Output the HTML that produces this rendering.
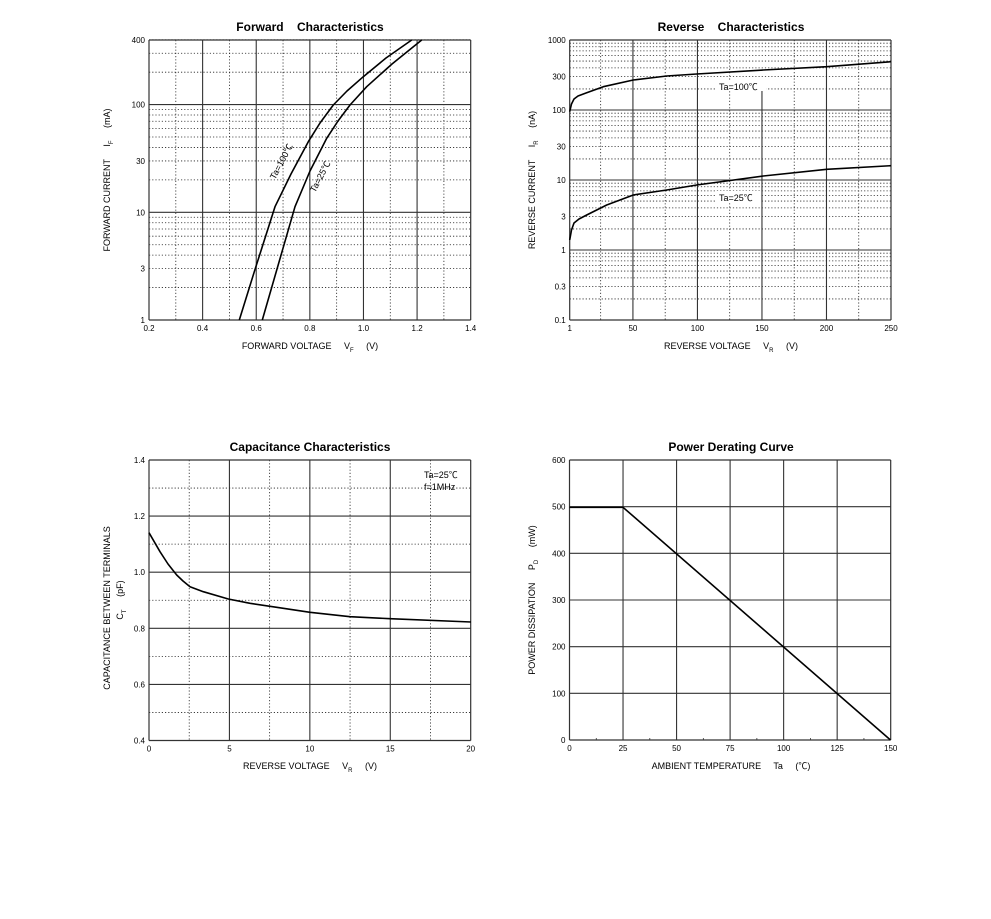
<!DOCTYPE html>
<html><head><meta charset="utf-8"><style>
html,body{margin:0;padding:0;background:#fff;}
svg{display:block;font-family:"Liberation Sans","Noto Sans CJK SC",sans-serif;}
text{white-space:pre;}
</style></head><body>
<svg id="s" width="991" height="919" viewBox="0 0 991 919" xmlns="http://www.w3.org/2000/svg" xml:space="preserve">
<g font-size="12" font-weight="bold" text-anchor="middle">
<text x="310" y="31">Forward    Characteristics</text>
<text x="731" y="31">Reverse    Characteristics</text>
<text x="310" y="451">Capacitance Characteristics</text>
<text x="731" y="451">Power Derating Curve</text>
</g>
<g id="grid"></g>
<g font-size="8" id="labels"></g>
<g font-size="9" text-anchor="middle">
<text x="310" y="349">FORWARD VOLTAGE     V<tspan font-size="6" dy="3">F</tspan><tspan dy="-3">     (V)</tspan></text>
<text x="731" y="349">REVERSE VOLTAGE     V<tspan font-size="6" dy="3">R</tspan><tspan dy="-3">     (V)</tspan></text>
<text x="310" y="769">REVERSE VOLTAGE     V<tspan font-size="6" dy="3">R</tspan><tspan dy="-3">     (V)</tspan></text>
<text x="731" y="769">AMBIENT TEMPERATURE     Ta     (℃)</text>
<text transform="translate(110,180) rotate(-90)">FORWARD CURRENT     I<tspan font-size="6" dy="3">F</tspan><tspan dy="-3">     (mA)</tspan></text>
<text transform="translate(535,180) rotate(-90)">REVERSE CURRENT     I<tspan font-size="6" dy="3">R</tspan><tspan dy="-3">     (nA)</tspan></text>
<text transform="translate(110,608) rotate(-90)">CAPACITANCE BETWEEN TERMINALS</text>
<text transform="translate(123,600) rotate(-90)">C<tspan font-size="6" dy="3">T</tspan><tspan dy="-3">     (pF)</tspan></text>
<text transform="translate(535,600) rotate(-90)">POWER DISSIPATION     P<tspan font-size="6" dy="3">D</tspan><tspan dy="-3">     (mW)</tspan></text>
</g>
<g fill="none" stroke="#000" stroke-width="1.6" stroke-linejoin="round">
<path d="M239.3,320 L254.3,271.7 L275,206.7 L291,174 L308.3,141.7 L320,123 L333.3,105 L347,91 L363.3,76.7 L386,58 L411.7,40"/>
<path d="M262.3,320 L295,206.7 L310,171 L326.7,138.3 L338,121 L350,105 L366.7,86.7 L392,64 L421.7,40"/>
<path d="M569.7,111.7 L571.5,104 L574,99 L578,96 L586,93 L603.3,86.7 L633.3,80 L666.7,76 L696.7,74 L763.3,70 L826.7,66.7 L891,61.7"/>
<path d="M569.7,240 L571.5,230 L574,223 L579,219 L586.7,215 L606.7,205 L633.3,195 L666.7,190 L696.7,185 L763.3,176 L826.7,169.3 L891,165.7"/>
<path d="M149,532.7 L160,551.7 L168,564 L176.7,575 L183,581 L190,586.7 L203.3,591.7 L228.3,599 L250,603.3 L276.7,607.3 L310,612.3 L350,616.7 L390,618.7 L471,622"/>
<path d="M569.5,507.3 L623,507.3 L890.5,740"/>
</g>
<rect x="716" y="80" width="50" height="11" fill="#fff"/>
<rect x="716" y="191" width="44" height="11" fill="#fff"/>
<g font-size="9">
<text x="719" y="90">Ta=100℃</text>
<text x="719" y="201">Ta=25℃</text>
<text x="424" y="478">Ta=25℃</text>
<text x="424" y="490">f=1MHz</text>
<text transform="translate(275,180) rotate(-62)">Ta=100℃</text>
<text transform="translate(315,193) rotate(-62)">Ta=25℃</text>
</g>
</svg>
<script>
var NS="http://www.w3.org/2000/svg",g=document.getElementById('grid'),L=document.getElementById('labels');
function ln(x1,y1,x2,y2,dot,w){var e=document.createElementNS(NS,'line');e.setAttribute('x1',x1);e.setAttribute('y1',y1);e.setAttribute('x2',x2);e.setAttribute('y2',y2);e.setAttribute('stroke',dot?'#222':'#333');e.setAttribute('stroke-width',w||(dot?0.8:1.1));if(dot)e.setAttribute('stroke-dasharray','1.2,2');g.appendChild(e);}
function tx(x,y,s,a){var e=document.createElementNS(NS,'text');e.setAttribute('x',x);e.setAttribute('y',y);e.setAttribute('text-anchor',a||'middle');e.textContent=s;L.appendChild(e);}
function box(x0,y0,x1,y1){ln(x0,y0,x1,y0,0,1.2);ln(x0,y1,x1,y1,0,1.2);ln(x0,y0,x0,y1,0,1.2);ln(x1,y0,x1,y1,0,1.2);}
(function(){var x0=149,x1=470.7,y0=40,y1=320,d=107.7;
for(var i=0;i<=12;i++){var v=0.2+i*0.1,x=x0+(x1-x0)*i/12;if(i>0&&i<12)ln(x,y0,x,y1,i%2==1);if(i%2==0)tx(x,y1+11,v.toFixed(1));}
for(var dec=0;dec<3;dec++)for(var m=1;m<10;m++){var v=m*Math.pow(10,dec);if(v>400)break;var y=y1-Math.log10(v)*d;if(v>1)ln(x0,y,x1,y,!(m==1));}
[[1,'1'],[3,'3'],[10,'10'],[30,'30'],[100,'100'],[400,'400']].forEach(function(p){tx(x0-4,y1-Math.log10(p[0])*d+3,p[1],'end');});
box(x0,y0,x1,y1);})();
(function(){var x0=569.7,x1=891,y0=40,y1=320,d=70;
function X(v){return x0+(v-1)/249*(x1-x0);}
for(var v=25;v<250;v+=25)ln(X(v),v==150?91:y0,X(v),y1,v%50!=0);
[1,50,100,150,200,250].forEach(function(v){tx(X(v),y1+11,''+v);});
for(var dec=-1;dec<3;dec++)for(var m=1;m<10;m++){var v=m*Math.pow(10,dec);var y=y1-(Math.log10(v)+1)*d;if(v>0.1)ln(x0,y,x1,y,m!=1);}
[[0.1,'0.1'],[0.3,'0.3'],[1,'1'],[3,'3'],[10,'10'],[30,'30'],[100,'100'],[300,'300'],[1000,'1000']].forEach(function(p){tx(x0-4,y1-(Math.log10(p[0])+1)*d+3,p[1],'end');});
box(x0,y0,x1,y1);})();
(function(){var x0=149,x1=470.7,y0=460,y1=740.5;
for(var i=1;i<8;i++){var x=x0+(x1-x0)*i/8;ln(x,y0,x,y1,i%2==1);}
for(var i=0;i<=4;i++)tx(x0+(x1-x0)*i/4,y1+11,''+i*5);
for(var i=1;i<10;i++){var y=y1-(y1-y0)*i/10;ln(x0,y,x1,y,i%2==1);}
for(var i=0;i<=5;i++)tx(x0-4,y1-(y1-y0)*i/5+3,(0.4+i*0.2).toFixed(1),'end');
box(x0,y0,x1,y1);})();
(function(){var x0=569.5,x1=890.7,y0=460,y1=740;
for(var i=0;i<=6;i++){var x=x0+(x1-x0)*i/6;if(i>0&&i<6)ln(x,y0,x,y1,0);tx(x,y1+11,''+i*25);}
for(var i=1;i<12;i+=2){var x=x0+(x1-x0)*i/12;ln(x,y1,x,y1-2,0,0.8);}
for(var i=0;i<=6;i++){var y=y1-(y1-y0)*i/6;if(i>0&&i<6)ln(x0,y,x1,y,0);tx(x0-4,y+3,''+i*100,'end');}
box(x0,y0,x1,y1);})();
</script>
</body></html>
